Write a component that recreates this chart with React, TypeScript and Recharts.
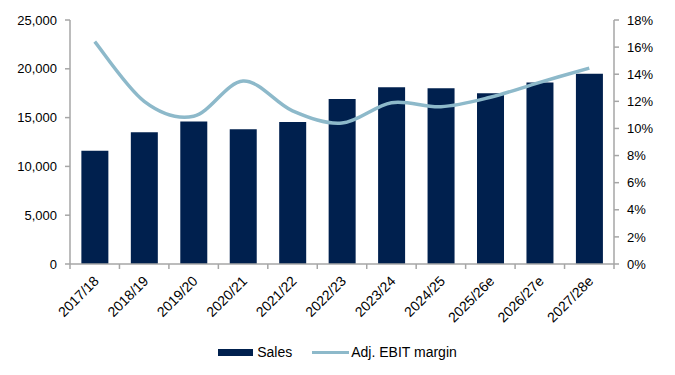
import React from "react";
import { ComposedChart, Bar, Line, XAxis, YAxis, Legend } from "recharts";

const categories = ["2017/18", "2018/19", "2019/20", "2020/21", "2021/22", "2022/23", "2023/24", "2024/25", "2025/26e", "2026/27e", "2027/28e"];
const sales = [11600, 13500, 14600, 13800, 14550, 16900, 18100, 18000, 17500, 18600, 19500];
const ebitMargin = [16.4, 12.0, 10.9, 13.5, 11.3, 10.4, 11.9, 11.6, 12.3, 13.4, 14.45];
const leftTicks = [0, 5000, 10000, 15000, 20000, 25000];
const rightTicks = [0, 2, 4, 6, 8, 10, 12, 14, 16, 18];

const data = categories.map((c, i) => ({ name: c, sales: sales[i], margin: ebitMargin[i] }));

const NAVY = "#00204E";
const LIGHT = "#8DB9CA";
const AXIS = "#A6A6A6";
const FONT = "'Liberation Sans', Arial, sans-serif";

function catmullRom(context: any) {
  let pts: number[][] = [];
  return {
    areaStart() {},
    areaEnd() {},
    lineStart() {
      pts = [];
    },
    lineEnd() {
      const n = pts.length;
      if (!n) return;
      context.moveTo(pts[0][0], pts[0][1]);
      for (let i = 0; i < n - 1; i++) {
        const p0 = pts[Math.max(i - 1, 0)];
        const p1 = pts[i];
        const p2 = pts[i + 1];
        const p3 = pts[Math.min(i + 2, n - 1)];
        const c1x = p1[0] + (p2[0] - p0[0]) / 6;
        const c1y = p1[1] + (p2[1] - p0[1]) / 6;
        const c2x = p2[0] - (p3[0] - p1[0]) / 6;
        const c2y = p2[1] - (p3[1] - p1[1]) / 6;
        context.bezierCurveTo(c1x, c1y, c2x, c2y, p2[0], p2[1]);
      }
    },
    point(x: number, y: number) {
      pts.push([+x, +y]);
    },
  };
}

const XTick = (props: any) => {
  const { x, y, payload, index } = props;
  const half = payload && payload.offset ? payload.offset : 24.7;
  const isLast = index === categories.length - 1;
  const ax = x + 5;
  const ay = y + 10;
  return (
    <g>
      <line x1={x - half} x2={x - half} y1={y - 8} y2={y - 3} stroke={AXIS} strokeWidth={1.5} />
      {isLast && <line x1={x + half} x2={x + half} y1={y - 8} y2={y - 3} stroke={AXIS} strokeWidth={1.5} />}
      <text
        x={ax}
        y={ay}
        transform={`rotate(-45, ${ax}, ${ay})`}
        textAnchor="end"
        fontSize={14}
        fontFamily={FONT}
        fill="#000"
      >
        {payload.value}
      </text>
    </g>
  );
};

const LegendContent = () => (
  <div style={{ height: 20, display: "flex", justifyContent: "center", alignItems: "center", fontFamily: FONT, fontSize: 14, color: "#000" }}>
    <span style={{ display: "inline-block", width: 35, height: 7, background: NAVY, marginRight: 4 }} />
    <span style={{ marginRight: 20 }}>Sales</span>
    <span style={{ display: "inline-block", width: 37, height: 3, background: LIGHT, marginRight: 2 }} />
    <span>Adj. EBIT margin</span>
  </div>
);

export default function App() {
  return (
    <div style={{ position: "absolute", left: 0, top: 0 }}>
      <ComposedChart width={675} height={375} data={data} margin={{ top: 20, right: 0, bottom: 13, left: 0 }} barCategoryGap="23%">
        <XAxis
          dataKey="name"
          height={78}
          interval={0}
          tickLine={false}
          axisLine={{ stroke: AXIS, strokeWidth: 1.5 }}
          tick={<XTick />}
        />
        <YAxis
          yAxisId="left"
          width={70}
          domain={[0, 25000]}
          ticks={leftTicks}
          tickFormatter={(v: number) => v.toLocaleString("en-US")}
          tick={{ fontSize: 13, fontFamily: FONT, fill: "#000" }}
          tickSize={5}
          tickMargin={8}
          tickLine={{ stroke: AXIS, strokeWidth: 1.5 }}
          axisLine={{ stroke: AXIS, strokeWidth: 1.5 }}
        />
        <YAxis
          yAxisId="right"
          orientation="right"
          width={61}
          domain={[0, 18]}
          ticks={rightTicks}
          tickFormatter={(v: number) => `${v}%`}
          tick={{ fontSize: 13, fontFamily: FONT, fill: "#000" }}
          tickSize={5}
          tickMargin={8}
          tickLine={{ stroke: AXIS, strokeWidth: 1.5 }}
          axisLine={{ stroke: AXIS, strokeWidth: 1.5 }}
        />
        <Legend verticalAlign="bottom" content={<LegendContent />} />
        <Bar yAxisId="left" dataKey="sales" name="Sales" fill={NAVY} isAnimationActive={false} />
        <Line
          yAxisId="right"
          dataKey="margin"
          name="Adj. EBIT margin"
          type={catmullRom as any}
          stroke={LIGHT}
          strokeWidth={3.5}
          dot={false}
          activeDot={false}
          isAnimationActive={false}
        />
      </ComposedChart>
    </div>
  );
}
